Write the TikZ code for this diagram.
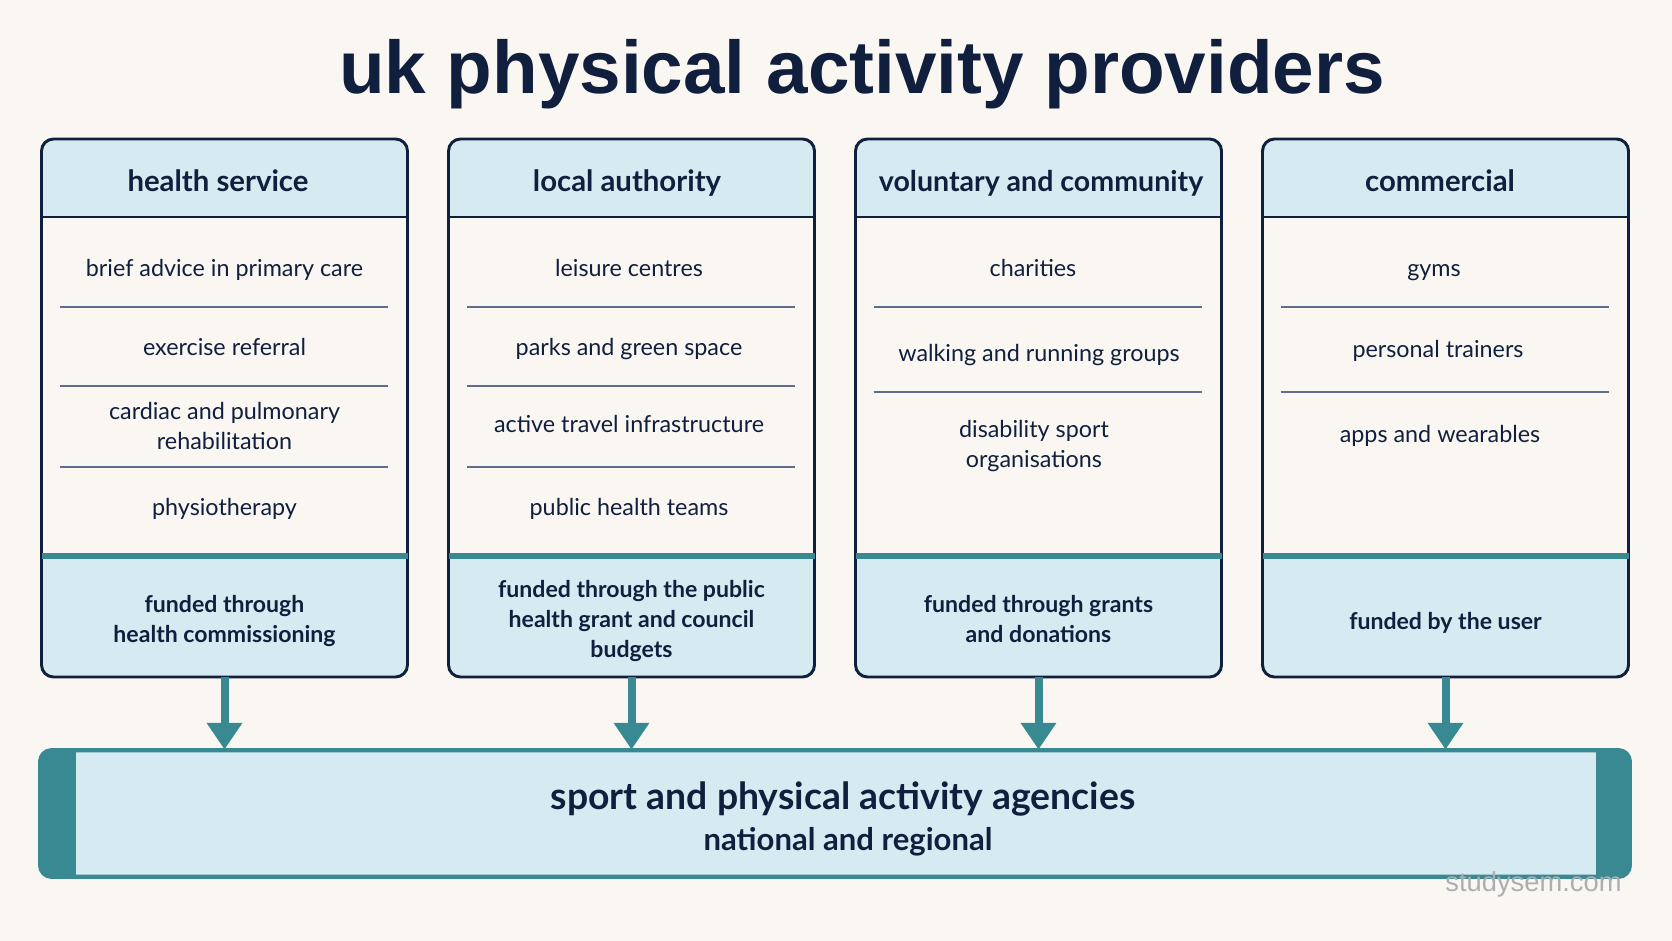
\documentclass[tikz,border=0pt]{standalone}
\usepackage{fontspec}
\setmainfont{Lato}
\newfontfamily\titlefont{Liberation Sans}
\newfontfamily\markfont{Liberation Sans}
\usetikzlibrary{arrows.meta}

\definecolor{pageback}{RGB}{250,247,242}
\definecolor{inknavy}{RGB}{16,31,61}
\definecolor{headblue}{RGB}{214,234,241}
\definecolor{tealline}{RGB}{56,137,146}
\definecolor{rulegrey}{RGB}{92,110,138}
\definecolor{markgrey}{RGB}{172,174,178}

\tikzset{every picture/.style={line width=0.75pt}}
\tikzset{
  headtext/.style={inner sep=0pt, text=inknavy, font=\bfseries\fontsize{22}{26}\selectfont,
    execute at begin node=\strut},
  itemtext/.style={inner sep=0pt, text=inknavy, align=center, font=\fontsize{17.5}{22.5}\selectfont,
    execute at begin node=\strut, execute at end node=\strut},
  fundbox/.style={inner sep=0pt, text=inknavy, align=center, font=\bfseries\fontsize{17.3}{22.5}\selectfont,
    execute at begin node=\strut, execute at end node=\strut},
  colframe/.style={draw=inknavy, line width=2.2pt, rounded corners=9pt},
  headrule/.style={draw=inknavy, line width=2.2pt},
  fundrule/.style={draw=tealline, line width=4.5pt},
  itemrule/.style={draw=rulegrey, line width=1.1pt},
  barbox/.style={fill=headblue, draw=tealline, line width=2.2pt, rounded corners=9pt,
    minimum width=1191pt, minimum height=93.75pt, inner sep=0pt},
  flowarrow/.style={draw=tealline, line width=6pt, -{Triangle[width=25.5pt,length=20pt]}},
}

\begin{document}
\begin{tikzpicture}[x=0.75pt,y=0.75pt,yscale=-1,xscale=1]
%set diagram size to 1672 x 941
\fill[pageback] (0,0) rectangle (1672,941);
\useasboundingbox (0,0) rectangle (1672,941);

% Text Node
\node[anchor=base, text=inknavy, inner sep=0pt, font=\titlefont\bfseries\fontsize{56}{60}\selectfont] (title) at (862,94) {uk physical activity providers};

%Shape: Rectangle [health service]
\fill[pageback, rounded corners=9pt] (41.5,139) rectangle (407.5,677);
\begin{scope}
\clip[rounded corners=9pt] (41.5,139) rectangle (407.5,677);
\fill[headblue] (41.5,139) rectangle (407.5,217);
\fill[headblue] (41.5,556) rectangle (407.5,677);
\end{scope}
\draw[headrule] (41.5,217) -- (407.5,217);
\draw[colframe] (41.5,139) rectangle (407.5,677);
\draw[fundrule] (41.5,556) -- (407.5,556);
\draw[itemrule] (59.5,307) -- (387.5,307);
\draw[itemrule] (59.5,386) -- (387.5,386);
\draw[itemrule] (59.5,467) -- (387.5,467);

%Shape: Rectangle [local authority]
\fill[pageback, rounded corners=9pt] (448.5,139) rectangle (814.5,677);
\begin{scope}
\clip[rounded corners=9pt] (448.5,139) rectangle (814.5,677);
\fill[headblue] (448.5,139) rectangle (814.5,217);
\fill[headblue] (448.5,556) rectangle (814.5,677);
\end{scope}
\draw[headrule] (448.5,217) -- (814.5,217);
\draw[colframe] (448.5,139) rectangle (814.5,677);
\draw[fundrule] (448.5,556) -- (814.5,556);
\draw[itemrule] (466.5,307) -- (794.5,307);
\draw[itemrule] (466.5,386) -- (794.5,386);
\draw[itemrule] (466.5,467) -- (794.5,467);

%Shape: Rectangle [voluntary and community]
\fill[pageback, rounded corners=9pt] (855.5,139) rectangle (1221.5,677);
\begin{scope}
\clip[rounded corners=9pt] (855.5,139) rectangle (1221.5,677);
\fill[headblue] (855.5,139) rectangle (1221.5,217);
\fill[headblue] (855.5,556) rectangle (1221.5,677);
\end{scope}
\draw[headrule] (855.5,217) -- (1221.5,217);
\draw[colframe] (855.5,139) rectangle (1221.5,677);
\draw[fundrule] (855.5,556) -- (1221.5,556);
\draw[itemrule] (873.5,307) -- (1201.5,307);
\draw[itemrule] (873.5,392) -- (1201.5,392);

%Shape: Rectangle [commercial]
\fill[pageback, rounded corners=9pt] (1262.5,139) rectangle (1628.5,677);
\begin{scope}
\clip[rounded corners=9pt] (1262.5,139) rectangle (1628.5,677);
\fill[headblue] (1262.5,139) rectangle (1628.5,217);
\fill[headblue] (1262.5,556) rectangle (1628.5,677);
\end{scope}
\draw[headrule] (1262.5,217) -- (1628.5,217);
\draw[colframe] (1262.5,139) rectangle (1628.5,677);
\draw[fundrule] (1262.5,556) -- (1628.5,556);
\draw[itemrule] (1280.5,307) -- (1608.5,307);
\draw[itemrule] (1280.5,392) -- (1608.5,392);

% Text Node
\node[headtext] (head1) at (218,184.5) {health service};
\node[headtext] (head2) at (627,184.5) {local authority};
\node[headtext, font=\bfseries\fontsize{21.4}{26}\selectfont] (head3) at (1041,184.5) {voluntary and community};
\node[headtext] (head4) at (1440,184.5) {commercial};

% Text Node
\node[itemtext] (item1a) at (224.5,271) {brief advice in primary care};
\node[itemtext] (item1b) at (224.5,350) {exercise referral};
\node[itemtext] (item1c) at (224.5,430) {cardiac and pulmonary\\rehabilitation};
\node[itemtext] (item1d) at (224.5,509) {physiotherapy};
% Text Node
\node[itemtext] (item2a) at (629,271) {leisure centres};
\node[itemtext] (item2b) at (629,350) {parks and green space};
\node[itemtext] (item2c) at (629,427) {active travel infrastructure};
\node[itemtext] (item2d) at (629,509) {public health teams};
% Text Node
\node[itemtext] (item3a) at (1033,271) {charities};
\node[itemtext] (item3b) at (1039,355.5) {walking and running groups};
\node[itemtext] (item3c) at (1034,448) {disability sport\\organisations};
% Text Node
\node[itemtext] (item4a) at (1434,271) {gyms};
\node[itemtext] (item4b) at (1438,352) {personal trainers};
\node[itemtext] (item4c) at (1440,436.5) {apps and wearables};

% Text Node
\node[fundbox] (fund1) at (224.5,623) {funded through\\health commissioning};
\node[fundbox] (fund2) at (631.5,623) {funded through the public\\health grant and council\\budgets};
\node[fundbox] (fund3) at (1038.5,623) {funded through grants\\and donations};
\node[fundbox] (fund4) at (1445.5,623) {funded by the user};
\coordinate (foot1) at (224.5,677);
\coordinate (foot2) at (631.5,677);
\coordinate (foot3) at (1038.5,677);
\coordinate (foot4) at (1445.5,677);

%Shape: Rectangle [agencies bar]
\node[barbox] (bar) at (835,813.5) {};
\begin{scope}
\clip[rounded corners=9pt] (bar.north west) rectangle (bar.south east);
\fill[tealline] (bar.north west) rectangle ([xshift=27pt]bar.south west);
\fill[tealline] ([xshift=-25.5pt]bar.north east) rectangle (bar.south east);
\end{scope}
\draw[tealline, line width=2.2pt, rounded corners=9pt] (bar.north west) rectangle (bar.south east);

% Text Node
\node[inner sep=0pt, text=inknavy, font=\bfseries\fontsize{28}{32}\selectfont] (bartitle) at (843,798.5) {sport and physical activity agencies};
\node[inner sep=0pt, text=inknavy, font=\bfseries\fontsize{23.3}{27}\selectfont] (barsub) at (848,842) {national and regional};

%Straight Lines [funding arrows]
\draw[flowarrow] (foot1) -- (bar.north -| foot1);
\draw[flowarrow] (foot2) -- (bar.north -| foot2);
\draw[flowarrow] (foot3) -- (bar.north -| foot3);
\draw[flowarrow] (foot4) -- (bar.north -| foot4);

% Text Node
\node[inner sep=0pt, text=markgrey, font=\markfont\fontsize{20.5}{24}\selectfont] (mark) at (1533.5,884) {studysem.com};

\end{tikzpicture}
\end{document}
